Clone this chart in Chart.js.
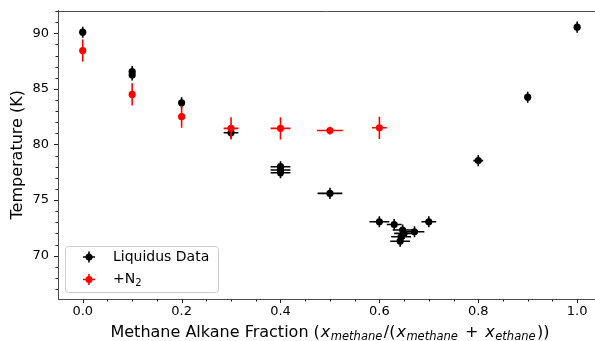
<!DOCTYPE html>
<html><head><meta charset="utf-8">
<script src="https://cdn.jsdelivr.net/npm/chart.js@4/dist/chart.umd.min.js"></script>
<style>html,body{margin:0;padding:0;background:#fff}</style>
</head><body>
<canvas id="c" width="595" height="341" style="display:block;width:595px;height:341px"></canvas>
<script>
// ---- data ----
const liqX    = [0.0, 0.1, 0.1, 0.2, 0.3, 0.4, 0.4, 0.4, 0.5, 0.6, 0.63, 0.647, 0.65, 0.644, 0.642, 0.671, 0.7, 0.8, 0.9, 1.0];
const liqT    = [90.1, 86.55, 86.25, 83.75, 81.05, 78.0, 77.7, 77.45, 75.6, 73.05, 72.8, 72.3, 72.0, 71.7, 71.3, 72.15, 73.05, 78.55, 84.25, 90.55];
const liqXErr = [0, 0, 0, 0, 0.015, 0.02, 0.02, 0.02, 0.025, 0.02, 0.015, 0.02, 0.02, 0.02, 0.02, 0.02, 0.015, 0.01, 0, 0];
const liqTErr = [0.5, 0.5, 0.5, 0.5, 0.5, 0.5, 0.5, 0.5, 0.5, 0.5, 0.5, 0.5, 0.5, 0.5, 0.5, 0.5, 0.5, 0.5, 0.5, 0.5];

const n2X     = [0.0, 0.1, 0.2, 0.3, 0.4, 0.5, 0.6];
const n2T     = [88.45, 84.5, 82.5, 81.45, 81.45, 81.25, 81.5];
const n2XErr  = [0, 0, 0, 0.015, 0.02, 0.026, 0.015];
const n2TErr  = [1.0, 1.0, 1.0, 1.0, 1.0, 0.35, 1.0];

const xMajorTicks = [0.0, 0.2, 0.4, 0.6, 0.8, 1.0];
const yMajorTicks = [70, 75, 80, 85, 90];
const seriesNames = ['Liquidus Data', '+N'];

const FONT = '"DejaVu Sans", sans-serif';
const SPINE = '#4a4a4a';

const xMinor = []; for (let i = 0; i <= 20; i++) xMinor.push(i / 20);
const yMinor = []; for (let v = 67; v <= 92; v++) yMinor.push(v);

function pts(xs, ys) { return xs.map((x, i) => ({x: x, y: ys[i]})); }
function isMajor(v, list) { return list.some(m => Math.abs(m - v) < 1e-6); }

const errPlugin = {
  id: 'errbars',
  beforeDatasetDraw(chart, args) {
    const ds = chart.data.datasets[args.index];
    const xs = chart.scales.x, ys = chart.scales.y, ctx = chart.ctx;
    ctx.save();
    ctx.strokeStyle = ds.backgroundColor; ctx.lineWidth = 1.6;
    ds.data.forEach((p, i) => {
      const px = xs.getPixelForValue(p.x), py = ys.getPixelForValue(p.y);
      const ex = ds.xErr[i], ey = ds.yErr[i];
      ctx.beginPath();
      if (ey) { ctx.moveTo(px, ys.getPixelForValue(p.y - ey)); ctx.lineTo(px, ys.getPixelForValue(p.y + ey)); }
      if (ex) { ctx.moveTo(xs.getPixelForValue(p.x - ex), py); ctx.lineTo(xs.getPixelForValue(p.x + ex), py); }
      ctx.stroke();
    });
    ctx.restore();
  },
  afterDraw(chart) {
    const ctx = chart.ctx, a = chart.chartArea, xs = chart.scales.x, ys = chart.scales.y;
    ctx.save();
    // top and bottom spines run to the canvas edge (figure is cropped on the right)
    ctx.strokeStyle = SPINE; ctx.lineWidth = 1;
    ctx.beginPath();
    ctx.moveTo(a.left, Math.round(a.top) + 0.5); ctx.lineTo(chart.width, Math.round(a.top) + 0.5);
    ctx.moveTo(a.left, Math.round(a.bottom) + 0.5); ctx.lineTo(chart.width, Math.round(a.bottom) + 0.5);
    ctx.stroke();
    // tick marks
    ctx.strokeStyle = '#222'; ctx.lineWidth = 1;
    xMinor.forEach(v => {
      const px = Math.round(xs.getPixelForValue(v)) + 0.5;
      const L = isMajor(v, xMajorTicks) ? 4 : 2.5;
      ctx.beginPath(); ctx.moveTo(px, a.bottom); ctx.lineTo(px, a.bottom + L); ctx.stroke();
    });
    yMinor.forEach(v => {
      const py = Math.round(ys.getPixelForValue(v)) + 0.5;
      const L = isMajor(v, yMajorTicks) ? 4 : 2.5;
      ctx.beginPath(); ctx.moveTo(a.left, py); ctx.lineTo(a.left - L, py); ctx.stroke();
    });
    // x axis title with math parts
    const M = '16px ' + FONT, MI = 'italic 16px ' + FONT, SI = 'italic 11.5px ' + FONT;
    const segs = [
      {t: 'Methane Alkane Fraction (', f: M, dy: 0, g: 1},
      {t: 'x', f: MI, dy: 0, g: 0.5},
      {t: 'methane', f: SI, dy: 3.5, g: 1.5},
      {t: '/(', f: M, dy: 0, g: 1},
      {t: 'x', f: MI, dy: 0, g: 0.5},
      {t: 'methane', f: SI, dy: 3.5, g: 7},
      {t: '+', f: M, dy: 0, g: 7},
      {t: 'x', f: MI, dy: 0, g: 0.5},
      {t: 'ethane', f: SI, dy: 3.5, g: 1.5},
      {t: '))', f: M, dy: 0, g: 0}
    ];
    let total = 0;
    segs.forEach(s => { ctx.font = s.f; s.w = ctx.measureText(s.t).width; total += s.w + s.g; });
    let cx = 330 - total / 2;
    const base = 336.5;
    ctx.fillStyle = '#000'; ctx.textBaseline = 'alphabetic'; ctx.textAlign = 'left';
    segs.forEach(s => { ctx.font = s.f; ctx.fillText(s.t, cx, base + s.dy); cx += s.w + s.g; });
    // legend
    const bx = 65.5, by = 246.5, bw = 153, bh = 46, r = 3;
    ctx.beginPath();
    ctx.moveTo(bx + r, by); ctx.lineTo(bx + bw - r, by); ctx.arcTo(bx + bw, by, bx + bw, by + r, r);
    ctx.lineTo(bx + bw, by + bh - r); ctx.arcTo(bx + bw, by + bh, bx + bw - r, by + bh, r);
    ctx.lineTo(bx + r, by + bh); ctx.arcTo(bx, by + bh, bx, by + bh - r, r);
    ctx.lineTo(bx, by + r); ctx.arcTo(bx, by, bx + r, by, r); ctx.closePath();
    ctx.fillStyle = 'rgba(255,255,255,0.8)'; ctx.fill();
    ctx.strokeStyle = '#cccccc'; ctx.lineWidth = 1; ctx.stroke();
    const entries = [{c: '#000000', y: 257, name: seriesNames[0]}, {c: '#ff0000', y: 279.5, name: seriesNames[1]}];
    entries.forEach((e, k) => {
      const mx = 89;
      ctx.strokeStyle = e.c; ctx.fillStyle = e.c; ctx.lineWidth = 1.6;
      ctx.beginPath(); ctx.moveTo(mx - 6, e.y); ctx.lineTo(mx + 6, e.y); ctx.moveTo(mx, e.y - 5.5); ctx.lineTo(mx, e.y + 5.5); ctx.stroke();
      ctx.beginPath(); ctx.arc(mx, e.y, 3.5, 0, Math.PI * 2); ctx.fill();
      ctx.fillStyle = '#000'; ctx.font = '14px ' + FONT; ctx.textBaseline = 'middle';
      ctx.fillText(e.name, 113, e.y);
      if (k === 1) {
        const w = ctx.measureText(e.name).width;
        ctx.font = '10px ' + FONT; ctx.fillText('2', 113 + w, e.y + 4);
      }
    });
    ctx.restore();
  }
};

new Chart(document.getElementById('c'), {
  type: 'scatter',
  data: {
    datasets: [
      {label: 'Liquidus Data', data: pts(liqX, liqT), xErr: liqXErr, yErr: liqTErr,
       backgroundColor: '#000000', borderWidth: 0, pointRadius: 3.6, order: 2},
      {label: '+N2', data: pts(n2X, n2T), xErr: n2XErr, yErr: n2TErr,
       backgroundColor: '#ff0000', borderWidth: 0, pointRadius: 3.6, order: 1}
    ]
  },
  options: {
    responsive: false, animation: false, devicePixelRatio: 1,
    layout: {padding: {top: 10.5, right: 0, left: 0, bottom: 0}},
    plugins: {legend: {display: false}, tooltip: {enabled: false}},
    scales: {
      x: {
        type: 'linear', min: -0.05, max: 1.028,
        afterBuildTicks: s => { s.ticks = xMinor.map(v => ({value: v})); },
        afterFit: s => { s.height = 42; s.paddingLeft = 0; s.paddingRight = 0; },
        grid: {display: false, drawTicks: false},
        border: {display: true, color: SPINE, width: 1},
        ticks: {autoSkip: false, maxRotation: 0, padding: 5, color: '#000',
          font: {family: FONT, size: 13},
          callback: v => isMajor(v, xMajorTicks) ? v.toFixed(1) : ''}
      },
      y: {
        type: 'linear', min: 66.1, max: 92.05,
        afterBuildTicks: s => { s.ticks = yMinor.map(v => ({value: v})); },
        afterFit: s => { s.width = 58; s.paddingTop = 0; s.paddingBottom = 0; },
        grid: {display: false, drawTicks: false},
        border: {display: true, color: SPINE, width: 1},
        title: {display: true, text: 'Temperature (K)', color: '#000', font: {family: FONT, size: 16}, padding: {top: 8.5, bottom: 0}},
        ticks: {autoSkip: false, padding: 9, color: '#000',
          font: {family: FONT, size: 13},
          callback: v => isMajor(v, yMajorTicks) ? String(v) : ''}
      }
    }
  },
  plugins: [errPlugin]
});
</script>
</body></html>
